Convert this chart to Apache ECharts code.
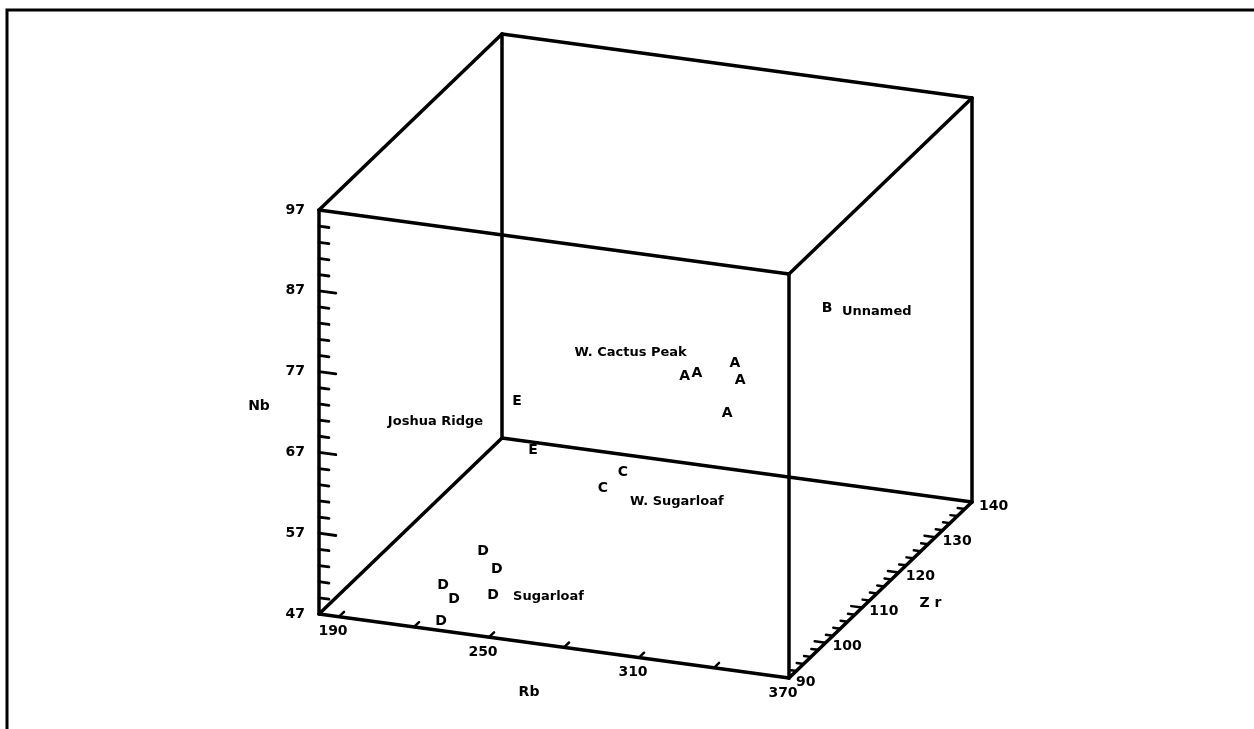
<!DOCTYPE html>
<html>
<head>
<meta charset="utf-8">
<script src="https://cdn.jsdelivr.net/npm/echarts@6/dist/echarts.min.js"></script>
<style>html,body{margin:0;padding:0;background:#fff}#c{width:1254px;height:729px}</style>
</head>
<body>
<div id="c"></div>
<script>
// ---- axis ranges & ticks ----
const RB_MIN = 182, RB_MAX = 370;
const ZR_MIN = 90, ZR_MAX = 140;
const NB_MIN = 47, NB_MAX = 97;
const nbTickLabels = [47, 57, 67, 77, 87, 97];
const rbTicks = [190, 220, 250, 280, 310, 340, 370];
const rbTickLabels = [190, 250, 310, 370];
const zrTickLabels = [90, 100, 110, 120, 130, 140];

// ---- data (Rb, Zr, Nb) ----
// A: W. Cactus Peak
const rbA = [299, 301, 322, 327, 316];
const zrA = [110, 112, 108, 106, 110];
const nbA = [72.6, 72.2, 76.1, 75.0, 68.8];
// B: Unnamed
const rbB = [353];
const zrB = [112];
const nbB = [82.5];
// C: W. Sugarloaf
const rbC = [262.6, 257.5];
const zrC = [118, 116];
const nbC = [55.7, 54.4];
// D: Sugarloaf
const rbD = [227.1, 235.6, 219.9, 227.2, 239.9, 227.9];
const zrD = [104, 102, 98, 96, 98, 92];
const nbD = [50.6, 49.6, 48.6, 48.1, 48.3, 47.2];
// E: Joshua Ridge
const rbE = [205.6, 214.9];
const zrE = [128, 126];
const nbE = [57.7, 52.9];

const groupLetters = ['A', 'B', 'C', 'D', 'E'];
const groupNames = ['W. Cactus Peak', 'Unnamed', 'W. Sugarloaf', 'Sugarloaf', 'Joshua Ridge'];

// ---- layout (projection & label placement) ----
const RB_DROP = 64;            // px the Rb direction descends across the box
const ZR_VEC = [183, -176];    // px offset of the Zr direction across the box
const FONT = 'bold 14px "DejaVu Sans"';
const LETTER_FONT = 'bold 14px "DejaVu Sans"';
const LABEL_FONT = 'bold 13px "DejaVu Sans"';
const nameAnchors = [
  {idx: 0, dx: 2, dy: -24, align: 'right'},
  {idx: 0, dx: 15, dy: 4, align: 'left'},
  {idx: 1, dx: 27, dy: 13, align: 'left'},
  {idx: 4, dx: 20, dy: 2, align: 'left'},
  {idx: 0, dx: -34, dy: 20, align: 'right'}
];

function zipData(r, z, n) { return r.map((v, i) => [v, z[i], n[i]]); }
const groupData = [zipData(rbA, zrA, nbA), zipData(rbB, zrB, nbB), zipData(rbC, zrC, nbC),
                   zipData(rbD, zrD, nbD), zipData(rbE, zrE, nbE)];

function makeProj(api) {
  return function (rb, zr, nb) {
    const p = api.coord([rb, nb]);
    const fr = (rb - RB_MIN) / (RB_MAX - RB_MIN);
    const fz = (zr - ZR_MIN) / (ZR_MAX - ZR_MIN);
    return [p[0] + fz * ZR_VEC[0], p[1] + fr * RB_DROP + fz * ZR_VEC[1]];
  };
}
function line(a, b, w) {
  return {type: 'line', shape: {x1: a[0], y1: a[1], x2: b[0], y2: b[1]},
          style: {stroke: '#000', lineWidth: w || 3, lineCap: 'round'}};
}
function txt(x, y, s, align, vAlign, font) {
  return {type: 'text', x: x, y: y, style: {text: s, font: font || FONT, fill: '#000',
          align: align || 'center', verticalAlign: vAlign || 'middle'}};
}

function renderBox(params, api) {
  const P = makeProj(api);
  const c = [];
  const FBL = P(RB_MIN, ZR_MIN, NB_MIN), FBR = P(RB_MAX, ZR_MIN, NB_MIN);
  const FTL = P(RB_MIN, ZR_MIN, NB_MAX), FTR = P(RB_MAX, ZR_MIN, NB_MAX);
  const BBL = P(RB_MIN, ZR_MAX, NB_MIN), BBR = P(RB_MAX, ZR_MAX, NB_MIN);
  const BTL = P(RB_MIN, ZR_MAX, NB_MAX), BTR = P(RB_MAX, ZR_MAX, NB_MAX);
  [[FBL, FBR], [FBR, FTR], [FTR, FTL], [FTL, FBL],
   [BBL, BBR], [BBR, BTR], [BTR, BTL], [BTL, BBL],
   [FBL, BBL], [FBR, BBR], [FTL, BTL], [FTR, BTR]].forEach(e => c.push(line(e[0], e[1], 3.5)));

  const rl = Math.hypot(FBR[0] - FBL[0], FBR[1] - FBL[1]);
  const ru = [(FBR[0] - FBL[0]) / rl, (FBR[1] - FBL[1]) / rl];
  const zl = Math.hypot(ZR_VEC[0], ZR_VEC[1]);
  const zu = [ZR_VEC[0] / zl, ZR_VEC[1] / zl];

  // Nb axis ticks (every 2, major every 10)
  for (let v = NB_MIN + 2; v < NB_MAX; v += 2) {
    const major = nbTickLabels.indexOf(v) >= 0;
    const p = P(RB_MIN, ZR_MIN, v);
    const L = major ? 17 : 10;
    c.push(line(p, [p[0] + ru[0] * L, p[1] + ru[1] * L], 2.8));
  }
  nbTickLabels.forEach(v => {
    const p = P(RB_MIN, ZR_MIN, v);
    c.push(txt(p[0] - 14, p[1], String(v), 'right', 'middle'));
  });
  // Rb ticks
  rbTicks.forEach(v => {
    if (v >= RB_MAX) return;
    const p = P(v, ZR_MIN, NB_MIN);
    c.push(line(p, [p[0] + zu[0] * 7, p[1] + zu[1] * 7], 2.5));
  });
  rbTickLabels.forEach(v => {
    const p = P(v, ZR_MIN, NB_MIN);
    c.push(txt(p[0] - 6, p[1] + 15, String(v), 'center', 'middle'));
  });
  // Zr ticks (every 2, major every 10)
  for (let v = ZR_MIN + 2; v < ZR_MAX; v += 2) {
    const major = zrTickLabels.indexOf(v) >= 0;
    const p = P(RB_MAX, v, NB_MIN);
    const L = major ? 11 : 7;
    c.push(line(p, [p[0] - ru[0] * L, p[1] - ru[1] * L], 2.5));
  }
  zrTickLabels.forEach(v => {
    const p = P(RB_MAX, v, NB_MIN);
    c.push(txt(p[0] + 7, p[1] + 4, String(v), 'left', 'middle'));
  });
  // axis names
  const nbMid = P(RB_MIN, ZR_MIN, (NB_MIN + NB_MAX) / 2);
  c.push(txt(nbMid[0] - 60, nbMid[1] - 6, 'Nb'));
  const rbMid = P((RB_MIN + RB_MAX) / 2, ZR_MIN, NB_MIN);
  c.push(txt(rbMid[0] - 25, rbMid[1] + 46, 'Rb'));
  const zrMid = P(RB_MAX, (ZR_MIN + ZR_MAX) / 2, NB_MIN);
  c.push(txt(zrMid[0] + 50, zrMid[1] + 13, 'Z r'));
  return {type: 'group', children: c};
}

function makeGroupRender(g) {
  return function (params, api) {
    const P = makeProj(api);
    const p = P(api.value(0), api.value(1), api.value(2));
    const children = [txt(p[0], p[1], groupLetters[g], 'center', 'middle', LETTER_FONT)];
    const a = nameAnchors[g];
    if (params.dataIndex === a.idx) {
      children.push(txt(p[0] + a.dx, p[1] + a.dy, groupNames[g], a.align, 'middle', LABEL_FONT));
    }
    return {type: 'group', children: children};
  };
}

const series = [{
  type: 'custom', coordinateSystem: 'cartesian2d', clip: false, silent: true,
  data: [[RB_MIN, ZR_MIN, NB_MIN]], encode: {x: 0, y: 2}, renderItem: renderBox
}];
groupData.forEach((d, g) => series.push({
  type: 'custom', coordinateSystem: 'cartesian2d', clip: false, silent: true,
  name: groupNames[g], data: d, encode: {x: 0, y: 2}, renderItem: makeGroupRender(g)
}));

const chart = echarts.init(document.getElementById('c'), null, {renderer: 'canvas'});
chart.setOption({
  backgroundColor: '#fff',
  animation: false,
  grid: {left: 319, top: 210, width: 470, height: 404},
  xAxis: {type: 'value', min: RB_MIN, max: RB_MAX, show: false},
  yAxis: {type: 'value', min: NB_MIN, max: NB_MAX, show: false},
  graphic: [{type: 'polyline', shape: {points: [[7, 729], [7, 10], [1254, 10]]},
             style: {stroke: '#000', lineWidth: 3, fill: null}}],
  series: series
});
</script>
</body>
</html>
